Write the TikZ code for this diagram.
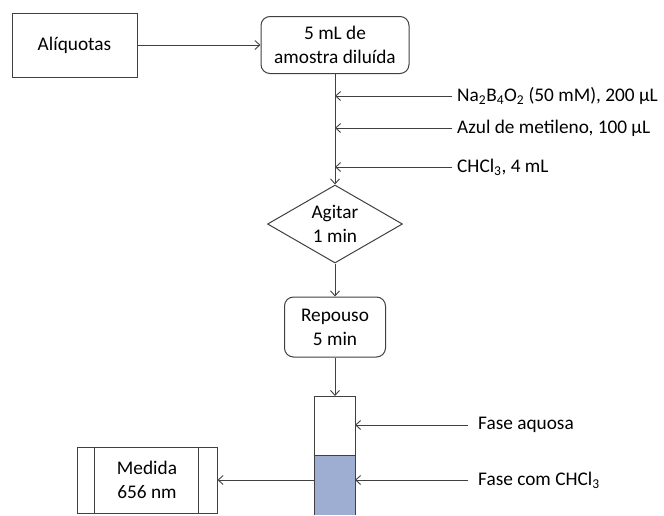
\documentclass[tikz,border=0pt]{standalone}
\usepackage{fontspec}
\setmainfont{Carlito}
\usetikzlibrary{shapes.geometric,arrows.meta,positioning}
\definecolor{linha}{RGB}{64,64,64}
\definecolor{fasecor}{RGB}{158,174,210}

\tikzset{
    caixa/.style={draw=linha, line width=1pt, align=center, inner sep=0pt},
    losango/.style={draw=linha, line width=1pt, diamond, aspect=1.73, align=center, inner sep=0pt},
    seta/.style={draw=linha, line width=0.9pt, -{Straight Barb[length=5pt,width=9pt]}},
    rotulo/.style={anchor=west, inner sep=0pt}
}

\begin{document}
\begin{tikzpicture}[x=1pt, y=-1pt, every node/.style={font=\fontsize{19.3}{24}\selectfont}]

        \useasboundingbox (0,0) rectangle (664,515);

        %----- BOXES -----
        \node[caixa, minimum width=125pt, minimum height=64pt] (aliq) at (74.5,45) {Alíquotas};
        \node[caixa, rounded corners=9pt, minimum width=148pt, minimum height=57pt] (amostra) at (335,45) {5 mL de\\amostra diluída};
        \node[losango, minimum width=135pt, minimum height=78pt] (agitar) at (335,224) {Agitar\\1 min};
        \node[caixa, rounded corners=9pt, minimum width=101pt, minimum height=60pt] (repouso) at (335,327) {Repouso\\5 min};
        \node[caixa, minimum width=140pt, minimum height=66pt] (medida) at (147,480) {Medida\\656 nm};
        \draw[linha, line width=1pt] ([xshift=18pt]medida.north west) -- ([xshift=18pt]medida.south west);
        \draw[linha, line width=1pt] ([xshift=-19pt]medida.north east) -- ([xshift=-19pt]medida.south east);

        %----- TUBE -----
        \fill[fasecor] (314,455) rectangle (355,515);
        \draw[linha, line width=1pt] (314,515) -- (314,396) -- (355,396) -- (355,515);
        \draw[linha, line width=1pt] (314,455) -- (355,455);
        \coordinate (tubotopo) at (335,396);
        \coordinate (tuboesq) at (314,480);
        \coordinate (tubodir) at (355,396);

        %----- REAGENTS -----
        \node[rotulo] (borato) at (457,96) {Na\textsubscript{2}B\textsubscript{4}O\textsubscript{2} (50 mM), 200 µL};
        \node[rotulo] (azul) at (457,128) {Azul de metileno, 100 µL};
        \node[rotulo] (cloro) at (457,167) {CHCl\textsubscript{3}, 4 mL};
        \node[rotulo] (aquosa) at (478,425) {Fase aquosa};
        \node[rotulo] (organica) at (478,480) {Fase com CHCl\textsubscript{3}};

        %----- CONNECTORS -----
        \draw[seta] (aliq.east) -- (amostra.west);
        \draw[seta] (amostra) -- (agitar);
        \draw[seta] (agitar) -- (repouso);
        \draw[seta] (repouso) -- (tubotopo);
        \draw[seta] (tuboesq) -- (medida.east);
        \foreach \r in {borato, azul, cloro} {
            \draw[seta] ([xshift=-5pt]\r.west) -- (\r.west -| amostra.south);
        }
        \foreach \r in {aquosa, organica} {
            \draw[seta] ([xshift=-10pt]\r.west) -- (\r.west -| tubodir);
        }

\end{tikzpicture}
\end{document}
